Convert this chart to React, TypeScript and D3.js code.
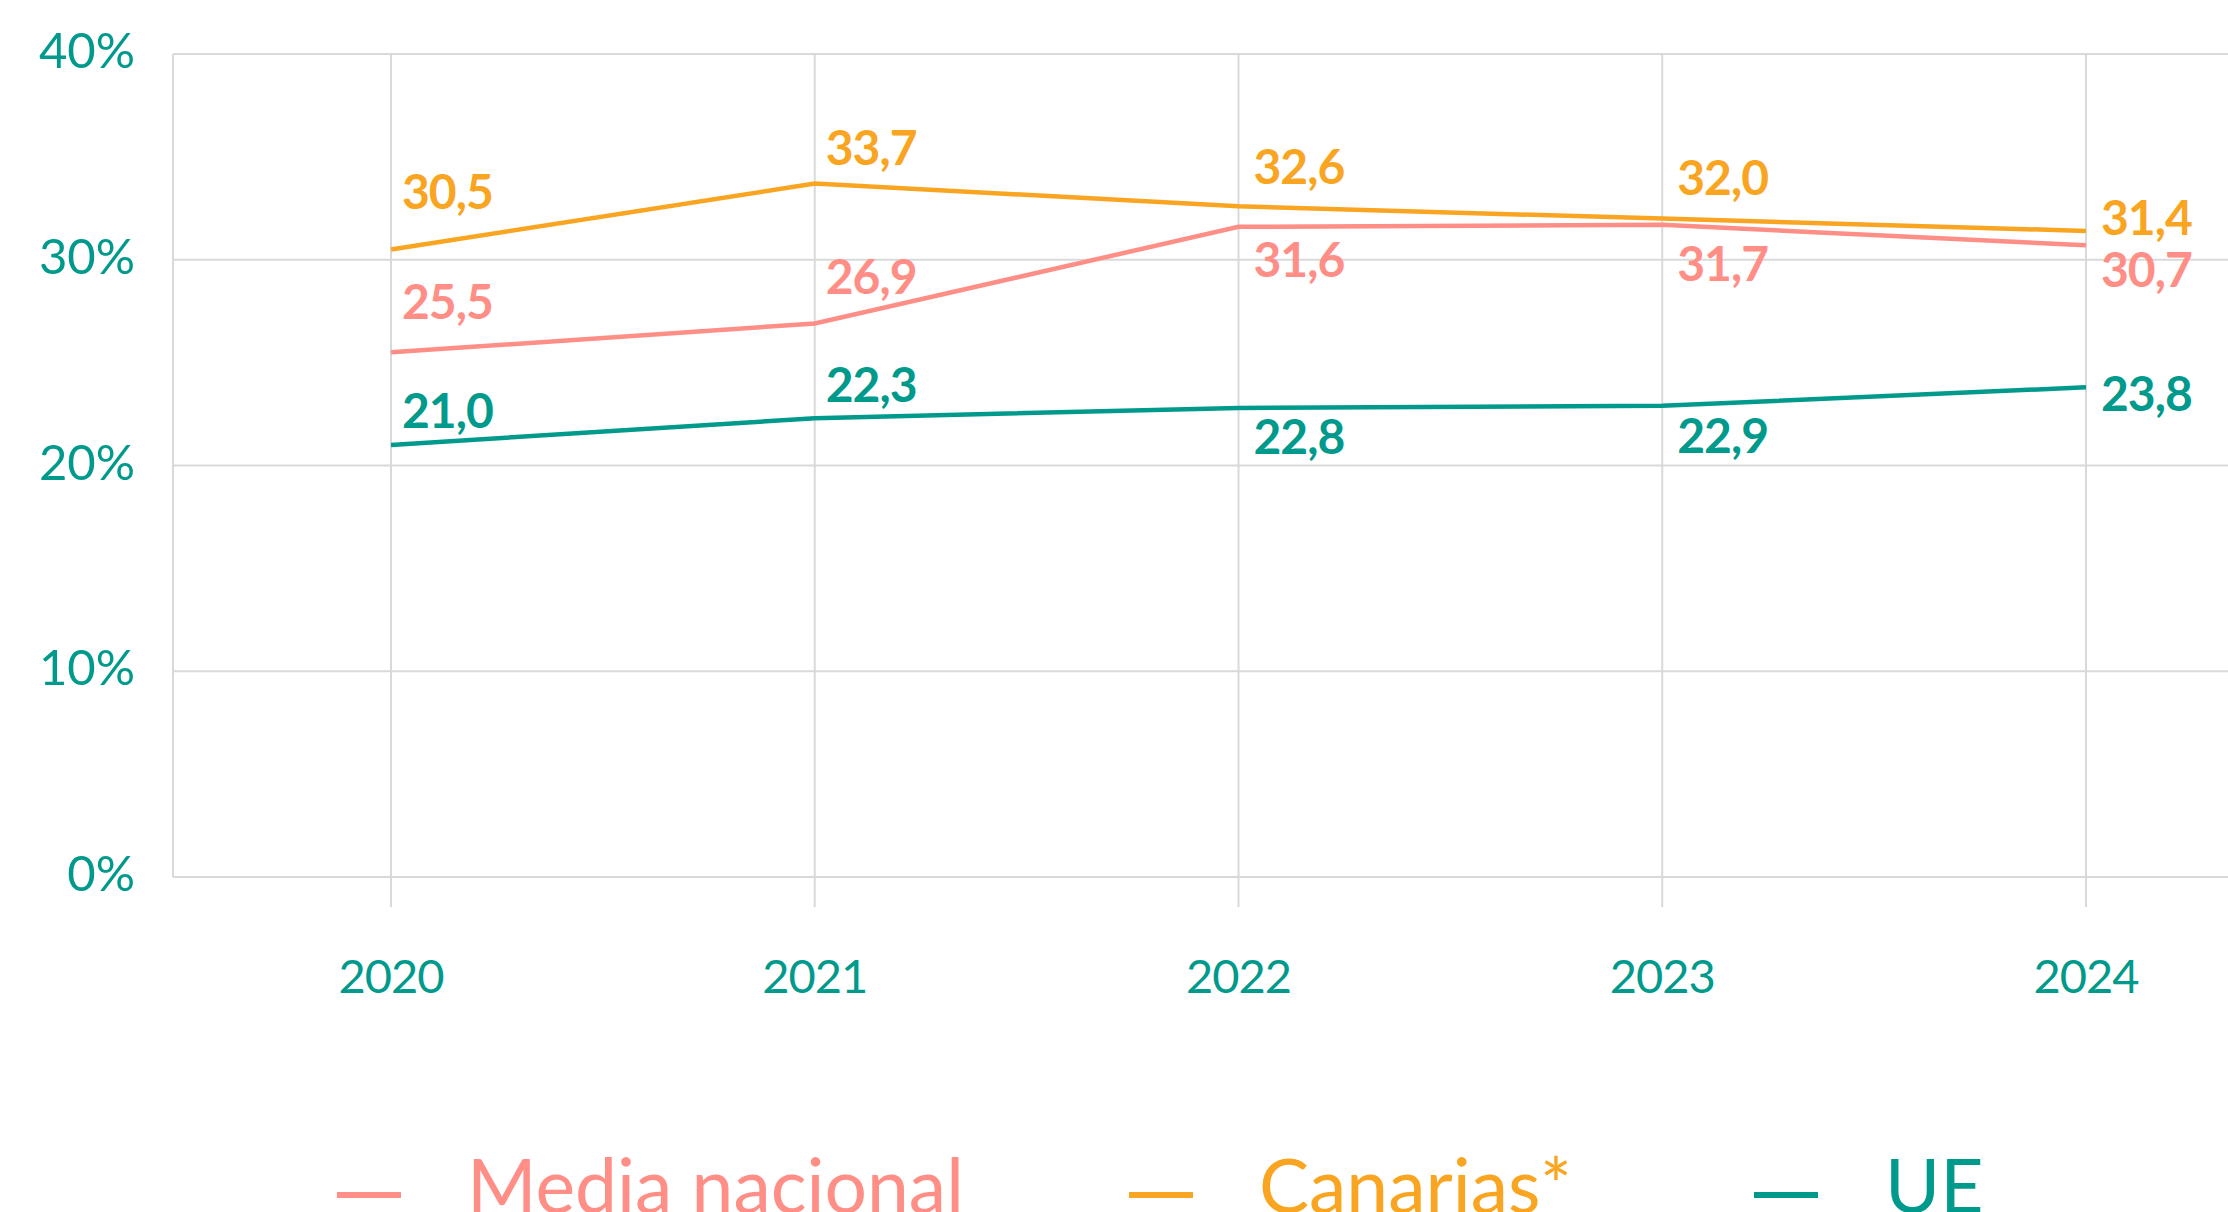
import React from "react";
import * as d3 from "d3";

const years = ["2020", "2021", "2022", "2023", "2024"];
const mediaNacional = [25.5, 26.9, 31.6, 31.7, 30.7];
const canarias = [30.5, 33.7, 32.6, 32.0, 31.4];
const ue = [21.0, 22.3, 22.8, 22.9, 23.8];
const yTicks = [0, 10, 20, 30, 40];
const seriesNames = ["Media nacional", "Canarias*", "UE"];

// label offsets (layout, px): dy baseline from point
const labelDy = {
  "Media nacional": [-33, -30, 50, 56, 42],
  "Canarias*": [-40, -19, -22, -24, 4],
  UE: [-17, -16, 46, 47, 24],
};

const W = 2228;
const H = 1212;
const left = 173;
const top = 54;
const bottom = 877;
const font = "Lato, 'Open Sans', sans-serif";

const colors = {
  "Media nacional": "#FF8E86",
  "Canarias*": "#F9A521",
  UE: "#009A8C",
};
const teal = "#009A8C";
const grid = "#D8DADA";

export default function App() {
  const x = d3.scalePoint<string>().domain(years).range([391, 2086]);
  const y = d3.scaleLinear().domain([0, 40]).range([bottom, top]);
  const series = [
    { name: "Media nacional", values: mediaNacional },
    { name: "Canarias*", values: canarias },
    { name: "UE", values: ue },
  ];
  const line = d3
    .line<number>()
    .x((_, i) => x(years[i]) as number)
    .y((d) => y(d));
  const fmt = (v: number) => v.toFixed(1).replace(".", ",");
  const legendX = [
    { m: 337, t: 467 },
    { m: 1129, t: 1259 },
    { m: 1754, t: 1885 },
  ];

  return (
    <div style={{ position: "fixed", left: 0, top: 0, width: W, height: H, background: "#fff" }}>
      <svg width={W} height={H} style={{ display: "block" }}>
        <rect width={W} height={H} fill="#fff" />
        {yTicks.map((t) => (
          <line key={"h" + t} x1={left} x2={W} y1={y(t)} y2={y(t)} stroke={grid} strokeWidth={2} />
        ))}
        {years.map((yr) => (
          <line key={"v" + yr} x1={x(yr)} x2={x(yr)} y1={top} y2={907} stroke={grid} strokeWidth={2} />
        ))}
        <line x1={left} x2={left} y1={top} y2={bottom} stroke={grid} strokeWidth={2} />
        {yTicks.map((t) => (
          <text
            key={"yl" + t}
            x={135}
            y={y(t) + 14}
            textAnchor="end"
            fontFamily={font}
            fontSize={49}
            fill={teal}
          >
            {t}%
          </text>
        ))}
        {years.map((yr) => (
          <text
            key={"xl" + yr}
            x={x(yr)}
            y={993}
            textAnchor="middle"
            fontFamily={font}
            fontSize={47}
            fill={teal}
            style={{ letterSpacing: "-1px" }}
          >
            {yr}
          </text>
        ))}
        {series.map((s) => (
          <path
            key={s.name}
            d={line(s.values) || ""}
            fill="none"
            stroke={colors[s.name]}
            strokeWidth={4.5}
          />
        ))}
        {series.map((s) =>
          s.values.map((v, i) => (
            <text
              key={s.name + i}
              x={(x(years[i]) as number) + (i < 2 ? 11 : 15)}
              y={y(v) + labelDy[s.name][i]}
              fontFamily={font}
              fontWeight={700}
              fontSize={48}
              fill={colors[s.name]}
              style={{ letterSpacing: "-1px" }}
            >
              {fmt(v)}
            </text>
          ))
        )}
        {seriesNames.map((n, i) => (
          <g key={"lg" + n}>
            <line
              x1={legendX[i].m}
              x2={legendX[i].m + 64}
              y1={1195}
              y2={1195}
              stroke={colors[n]}
              strokeWidth={6}
            />
            <text
              x={legendX[i].t}
              y={1213}
              fontFamily={font}
              fontSize={75}
              fill={colors[n]}
            >
              {n}
            </text>
          </g>
        ))}
      </svg>
    </div>
  );
}
